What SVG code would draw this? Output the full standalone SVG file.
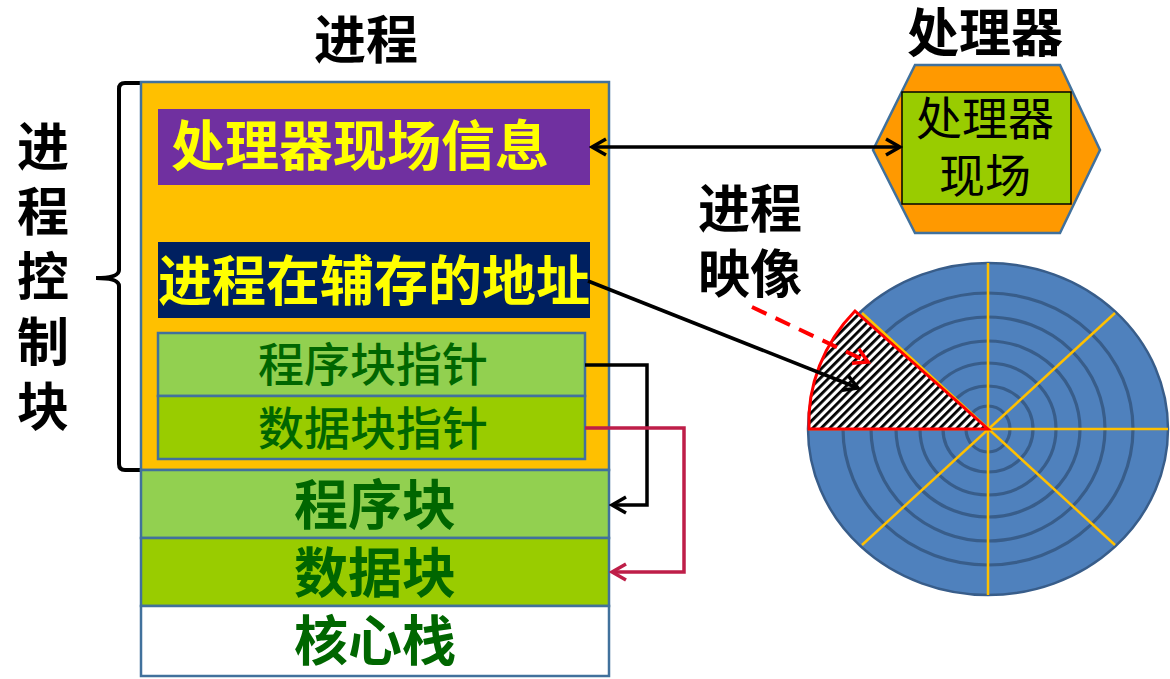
<svg xmlns="http://www.w3.org/2000/svg" width="1170" height="679" viewBox="0 0 1170 679">
<style>
text{font-family:"Noto Sans CJK SC","Noto Sans",sans-serif}
.t{font-weight:bold;font-size:52px;fill:#000}
.y{font-weight:bold;font-size:54px;fill:#FFFF00}
.g{font-weight:bold;font-size:54px;fill:#006600;text-anchor:middle}
.gp{font-weight:500;font-size:46px;fill:#006600;text-anchor:middle}
.bd{stroke:#41719C;stroke-width:2.5}
.ring{fill:none;stroke:#385D8A;stroke-width:3.2}
.yl{stroke:#FFC000;stroke-width:2.5}
</style>
<defs>
<marker id="ab" markerUnits="userSpaceOnUse" markerWidth="20" markerHeight="22" viewBox="0 0 20 22" refX="17" refY="11" orient="auto-start-reverse"><path d="M3,3 L17,11 L3,19" fill="none" stroke="#000" stroke-width="3.5"/></marker>
<marker id="ar" markerUnits="userSpaceOnUse" markerWidth="20" markerHeight="22" viewBox="0 0 20 22" refX="17" refY="11" orient="auto"><path d="M3,3 L17,11 L3,19" fill="none" stroke="#FF0000" stroke-width="3.5"/></marker>
<marker id="ac" markerUnits="userSpaceOnUse" markerWidth="20" markerHeight="22" viewBox="0 0 20 22" refX="17" refY="11" orient="auto"><path d="M3,3 L17,11 L3,19" fill="none" stroke="#BE1E48" stroke-width="3.5"/></marker>
<pattern id="hatch" width="6" height="6" patternUnits="userSpaceOnUse" patternTransform="rotate(45)"><rect width="6" height="6" fill="#fff"/><rect width="2.8" height="6" fill="#000"/></pattern>
</defs>

<g id="title-process"><text class="t" x="366" y="59" text-anchor="middle">进程</text></g>
<g id="title-cpu"><text class="t" x="985" y="52" text-anchor="middle">处理器</text></g>

<g id="pcb-label">
<text class="t" x="43" y="166" text-anchor="middle">进</text>
<text class="t" x="43" y="231" text-anchor="middle">程</text>
<text class="t" x="43" y="296" text-anchor="middle">控</text>
<text class="t" x="43" y="361" text-anchor="middle">制</text>
<text class="t" x="43" y="426" text-anchor="middle">块</text>
<path d="M141,83 H125 Q119,83 119,89 V270 Q119,278 96,278 Q119,278 119,286 V464 Q119,470 125,470 H141" fill="none" stroke="#000" stroke-width="4"/>
</g>

<g id="pcb"><rect x="141" y="82" width="468" height="388" fill="#FFC000" class="bd"/></g>
<g id="cpu-info"><rect x="158" y="109" width="432" height="76" fill="#7030A0"/><text class="y" x="171" y="166">处理器现场信息</text></g>
<g id="swap-addr"><rect x="158" y="242" width="432" height="76" fill="#002060"/><text class="y" x="158" y="301">进程在辅存的地址</text></g>
<g id="prog-ptr"><rect x="158" y="333" width="427" height="63" fill="#92D050" class="bd"/><text class="gp" x="373" y="381">程序块指针</text></g>
<g id="data-ptr"><rect x="158" y="396" width="427" height="63" fill="#99CC00" class="bd"/><text class="gp" x="373" y="445">数据块指针</text></g>
<g id="prog-block"><rect x="141" y="470" width="468" height="68" fill="#92D050" class="bd"/><text class="g" x="375" y="525">程序块</text></g>
<g id="data-block"><rect x="141" y="538" width="468" height="68" fill="#99CC00" class="bd"/><text class="g" x="375" y="593">数据块</text></g>
<g id="kernel-stack"><rect x="141" y="606" width="468" height="70" fill="#FFFFFF" class="bd"/><text class="g" x="375" y="661">核心栈</text></g>

<g id="cpu">
<polygon points="915,65 1060,65 1100,150 1060,233 915,233 873,150" fill="#FF9900" stroke="#41719C" stroke-width="2.5"/>
<rect x="902" y="92" width="169" height="112" fill="#99CC00" stroke="#000" stroke-width="1.5"/>
<text x="985" y="135" font-size="46" text-anchor="middle" fill="#000">处理器</text>
<text x="985" y="192" font-size="46" text-anchor="middle" fill="#000">现场</text>
</g>

<g id="image-label">
<text class="t" x="750" y="228" text-anchor="middle">进程</text>
<text class="t" x="750" y="293" text-anchor="middle">映像</text>
</g>

<g id="disk">
<ellipse cx="988" cy="429" rx="180" ry="166" fill="#4F81BD" stroke="#385D8A" stroke-width="2.5"/>
<ellipse class="ring" cx="988" cy="429" rx="22" ry="23"/>
<ellipse class="ring" cx="988" cy="429" rx="45" ry="43"/>
<ellipse class="ring" cx="988" cy="429" rx="68" ry="66"/>
<ellipse class="ring" cx="988" cy="429" rx="92" ry="88"/>
<ellipse class="ring" cx="988" cy="429" rx="117" ry="112"/>
<ellipse class="ring" cx="988" cy="429" rx="145" ry="136"/>
<line class="yl" x1="988" y1="263" x2="988" y2="595"/>
<line class="yl" x1="808" y1="429" x2="1168" y2="429"/>
<line class="yl" x1="862" y1="313" x2="1115" y2="545"/>
<line class="yl" x1="862" y1="545" x2="1115" y2="313"/>
<path d="M988,429 L855,311 A180,166 0 0 0 809,429 Z" fill="url(#hatch)" stroke="#FF0000" stroke-width="3" stroke-linejoin="miter"/>
</g>

<g id="connectors" fill="none">
<line x1="592" y1="147" x2="900" y2="147" stroke="#000" stroke-width="3.5" marker-start="url(#ab)" marker-end="url(#ab)"/>
<line x1="588" y1="281" x2="858" y2="388" stroke="#000" stroke-width="3.5" marker-end="url(#ab)"/>
<line x1="752" y1="307" x2="868" y2="362" stroke="#FF0000" stroke-width="4" stroke-dasharray="16,10" marker-end="url(#ar)"/>
<polyline points="585,365 647,365 647,505 612,505" stroke="#000" stroke-width="3.5" marker-end="url(#ab)"/>
<polyline points="585,428 684,428 684,572 612,572" stroke="#BE1E48" stroke-width="3.5" marker-end="url(#ac)"/>
</g>
</svg>
